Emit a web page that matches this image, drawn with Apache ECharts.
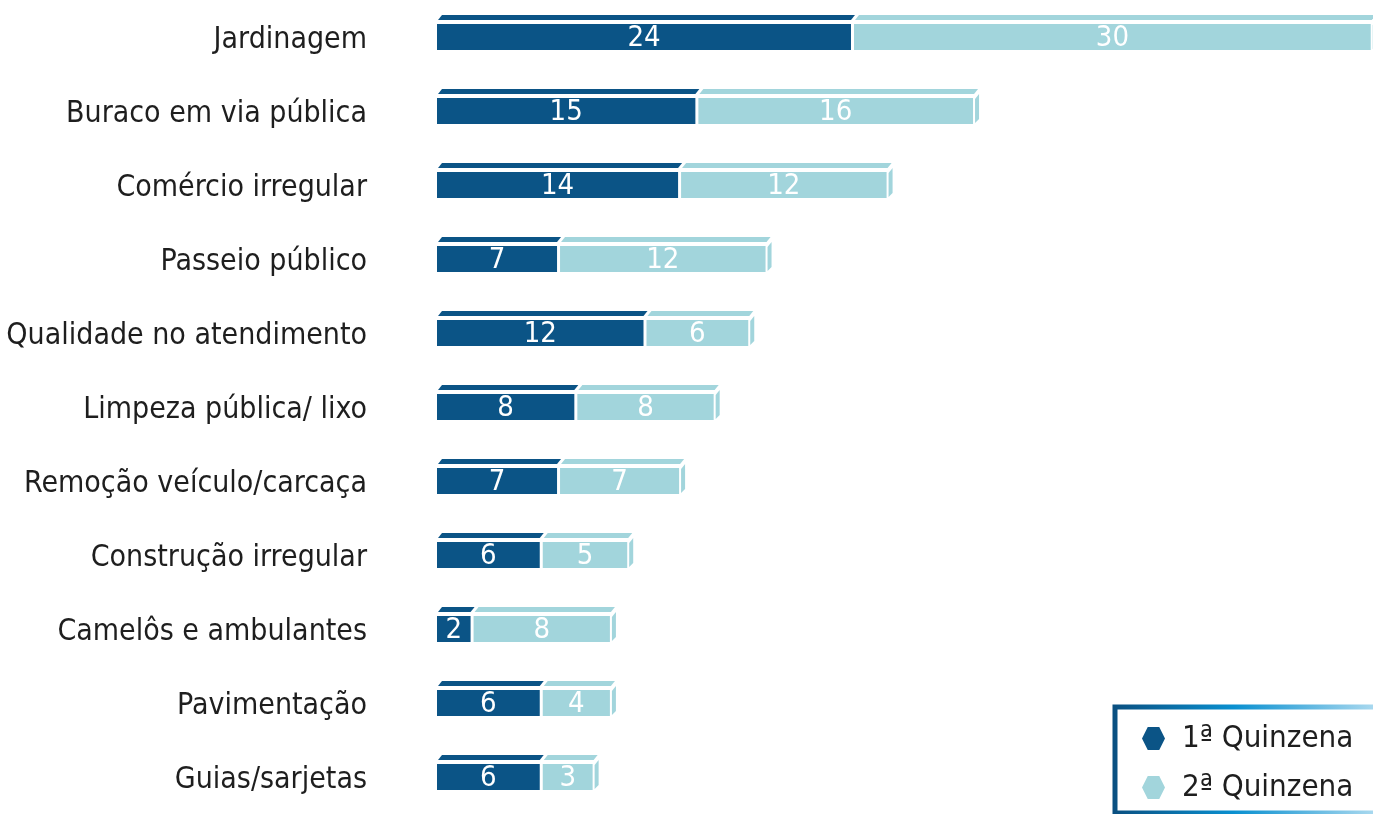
<!DOCTYPE html>
<html>
<head>
<meta charset="utf-8">
<script src="https://cdn.jsdelivr.net/npm/echarts@6/dist/echarts.min.js"></script>
<style>
  html, body { margin: 0; padding: 0; background: #fff; }
  #main { width: 1373px; height: 814px; }
</style>
</head>
<body>
<div id="main"></div>
<script>
var categories = ['Jardinagem', 'Buraco em via pública', 'Comércio irregular', 'Passeio público',
    'Qualidade no atendimento', 'Limpeza pública/ lixo', 'Remoção veículo/carcaça',
    'Construção irregular', 'Camelôs e ambulantes', 'Pavimentação', 'Guias/sarjetas'];
var q1 = [24, 15, 14, 7, 12, 8, 7, 6, 2, 6, 6];
var q2 = [30, 16, 12, 12, 6, 8, 7, 5, 8, 4, 3];
var seriesNames = ['1ª Quinzena', '2ª Quinzena'];

var dark = '#0b5486';
var light = '#a2d5dc';
var font = '"DejaVu Sans Condensed", "DejaVu Sans", sans-serif';

// [start, end, category index, value]
var data1 = [], data2 = [];
for (var i = 0; i < categories.length; i++) {
    data1.push([0, q1[i], i, q1[i]]);
    data2.push([q1[i], q1[i] + q2[i], i, q2[i]]);
}

function makeRender(s) {
    return function (params, api) {
        var p0 = api.coord([api.value(0), api.value(2)]);
        var p1 = api.coord([api.value(1), api.value(2)]);
        var x0 = p0[0], x1 = p1[0], cy = p0[1];
        var col = s === 0 ? dark : light;
        var fx0 = s === 0 ? x0 : x0 + 2;
        var fx1 = s === 0 ? x1 - 1 : x1;
        var children = [];
        // front face
        children.push({
            type: 'rect',
            shape: { x: fx0, y: cy - 13, width: fx1 - fx0, height: 26 },
            style: { fill: col }
        });
        // top face
        var tb0 = s === 0 ? x0 + 1 : x0 + 3;
        var tb1 = s === 0 ? x1 - 1 : x1 + 1;
        children.push({
            type: 'polygon',
            shape: { points: [[tb0, cy - 17], [tb0 + 4, cy - 22], [tb1 + 4, cy - 22], [tb1, cy - 17]] },
            style: { fill: col }
        });
        // right side face on the last segment
        if (s === 1) {
            children.push({
                type: 'polygon',
                shape: { points: [[x1 + 2, cy - 12], [x1 + 6, cy - 17], [x1 + 6, cy + 8], [x1 + 2, cy + 12]] },
                style: { fill: col }
            });
        }
        children.push({
            type: 'text',
            x: (fx0 + fx1) / 2,
            y: cy + 1,
            style: {
                text: String(api.value(3)),
                fill: '#ffffff',
                font: '29px ' + font,
                align: 'center',
                verticalAlign: 'middle'
            }
        });
        return { type: 'group', children: children };
    };
}

var myChart = echarts.init(document.getElementById('main'));

var option = {
    animation: false,
    backgroundColor: '#ffffff',
    grid: { left: 437, right: 0, top: -2, height: 824 },
    xAxis: {
        type: 'value', min: 0, max: 54.13, show: false
    },
    yAxis: {
        type: 'category',
        data: categories,
        inverse: true,
        axisLine: { show: false },
        axisTick: { show: false },
        axisLabel: {
            margin: 70,
            formatter: function (v) { return '{a|' + v + '}'; },
            rich: {
                a: {
                    color: '#1e1e1e',
                    fontSize: 30,
                    fontFamily: font,
                    padding: [7, 0, 0, 0]
                }
            }
        }
    },
    legend: {
        orient: 'vertical',
        left: 1115,
        top: 707,
        padding: [16, 60, 10, 27],
        itemWidth: 23,
        itemHeight: 23,
        itemGap: 18,
        icon: 'path://M0,50 L25,0 L75,0 L100,50 L75,100 L25,100 Z',
        borderWidth: 5,
        borderColor: new echarts.graphic.LinearGradient(0, 0, 1, 0, [
            { offset: 0, color: '#0a4f80' },
            { offset: 0.4, color: '#0a90d0' },
            { offset: 1, color: '#d8eef8' }
        ]),
        textStyle: { color: '#1e1e1e', fontSize: 31, lineHeight: 30, fontFamily: font, padding: [0, 0, 0, 12] },
        data: seriesNames
    },
    series: [
        {
            name: seriesNames[0],
            type: 'custom',
            renderItem: makeRender(0),
            itemStyle: { color: dark },
            encode: { x: [0, 1], y: 2 },
            clip: false,
            data: data1
        },
        {
            name: seriesNames[1],
            type: 'custom',
            renderItem: makeRender(1),
            itemStyle: { color: light },
            encode: { x: [0, 1], y: 2 },
            clip: false,
            data: data2
        }
    ]
};
myChart.setOption(option);
</script>
</body>
</html>
